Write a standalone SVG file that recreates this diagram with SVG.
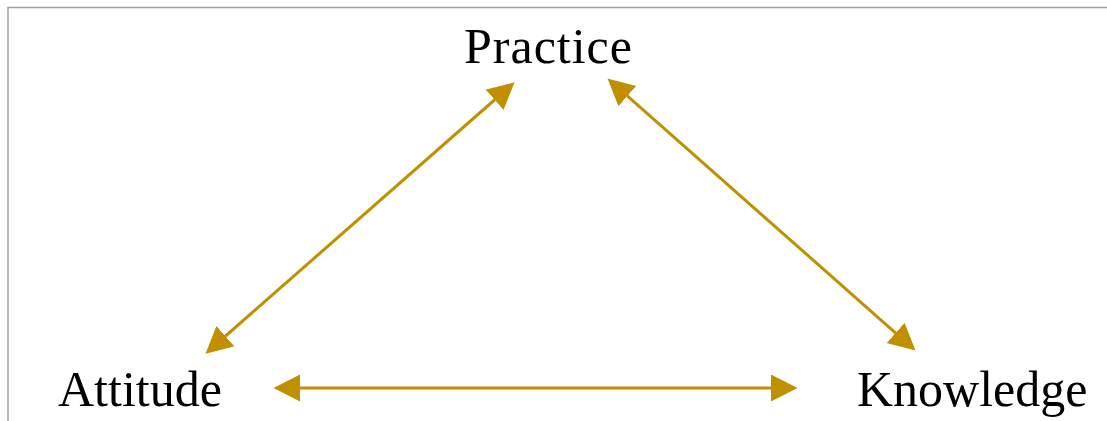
<svg xmlns="http://www.w3.org/2000/svg" width="1107" height="421" viewBox="0 0 1107 421">
<style>
.lbl{font-family:"Liberation Serif","Times New Roman",serif;font-size:50px;fill:#000}
.conn{stroke:#C09000;stroke-width:3;fill:none}
</style>
<defs>
<marker id="ah" markerUnits="userSpaceOnUse" markerWidth="28" markerHeight="28" refX="0.5" refY="14" orient="auto-start-reverse" viewBox="0 0 28 28">
<path d="M0,0.5 L26.5,14 L0,27.5 Z" fill="#C09000"/>
</marker>
</defs>
<rect width="1107" height="421" fill="#fff"/>
<path d="M8,421 V7.5 H1107" stroke="#a0a0a0" stroke-width="1.5" fill="none"/>
<g id="connectors">
<line class="conn" x1="225" y1="336.5" x2="495" y2="99.5" marker-start="url(#ah)" marker-end="url(#ah)"/>
<line class="conn" x1="627" y1="95.7" x2="896" y2="333.3" marker-start="url(#ah)" marker-end="url(#ah)"/>
<line class="conn" x1="299.5" y1="388" x2="771.5" y2="388" marker-start="url(#ah)" marker-end="url(#ah)"/>
</g>
<g id="practice"><text class="lbl" x="464" y="62.5" textLength="168">Practice</text></g>
<g id="attitude"><text class="lbl" x="58" y="406">Attitude</text></g>
<g id="knowledge"><text class="lbl" x="857" y="406">Knowledge</text></g>
</svg>
